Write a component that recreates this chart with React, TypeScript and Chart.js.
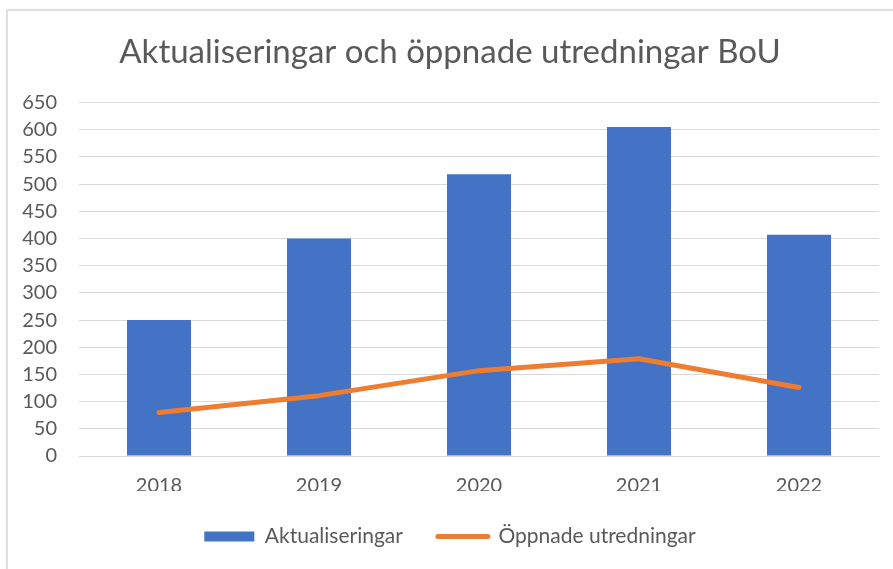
import React, { useEffect, useRef } from "react";
import { Chart, registerables } from "chart.js";

Chart.register(...registerables);

const categories = ["2018", "2019", "2020", "2021", "2022"];
const aktualiseringar = [250, 400, 518, 605, 407];
const oppnadeUtredningar = [80, 111, 157, 179, 126];
const yTicks = [0, 50, 100, 150, 200, 250, 300, 350, 400, 450, 500, 550, 600, 650];
const titleText = "Aktualiseringar och öppnade utredningar BoU";
const seriesNames = ["Aktualiseringar", "Öppnade utredningar"];

const BLUE = "#4472C4";
const ORANGE = "#ED7D31";
const TEXT = "#595959";
const GRID = "#d9d9d9";

export default function App() {
  const ref = useRef<HTMLCanvasElement | null>(null);

  useEffect(() => {
    if (!ref.current) return;
    const chart = new Chart(ref.current, {
      type: "bar",
      data: {
        labels: categories,
        datasets: [
          {
            type: "bar",
            label: seriesNames[0],
            data: aktualiseringar,
            backgroundColor: BLUE,
            borderWidth: 0,
            categoryPercentage: 1,
            barPercentage: 0.4,
            order: 2,
          },
          {
            type: "line",
            label: seriesNames[1],
            data: oppnadeUtredningar,
            borderColor: ORANGE,
            backgroundColor: ORANGE,
            borderWidth: 5,
            borderCapStyle: "round",
            borderJoinStyle: "round",
            pointRadius: 0,
            pointHoverRadius: 0,
            tension: 0,
            fill: false,
            order: 1,
          },
        ],
      },
      options: {
        animation: false,
        responsive: false,
        maintainAspectRatio: false,
        layout: { padding: { left: 21, right: 14, top: 0, bottom: 12 } },
        plugins: {
          title: {
            display: true,
            text: titleText,
            color: TEXT,
            font: { family: "Lato", size: 33, weight: "normal", lineHeight: 1.2 },
            padding: { top: 33, bottom: 30 },
          },
          legend: {
            position: "bottom",
            labels: {
              color: TEXT,
              font: { family: "Lato", size: 21 },
              usePointStyle: true,
              pointStyleWidth: 50,
              boxHeight: 10,
              padding: 35,
              generateLabels: (c: any) =>
                c.data.datasets.map((ds: any, i: number) => ({
                  text: ds.label,
                  fillStyle: i === 0 ? BLUE : ORANGE,
                  strokeStyle: i === 0 ? BLUE : ORANGE,
                  lineWidth: i === 0 ? 0 : 5,
                  lineCap: "round",
                  pointStyle: i === 0 ? "rect" : "line",
                  hidden: false,
                  datasetIndex: i,
                  fontColor: TEXT,
                })),
            },
          },
          tooltip: { enabled: false },
        },
        scales: {
          x: {
            grid: { display: false, drawTicks: false },
            border: { display: true, color: GRID, width: 1 },
            ticks: { color: TEXT, font: { family: "Lato", size: 20 }, padding: 18 },
            afterFit: (s: any) => {
              s.height = 35;
            },
          },
          y: {
            min: 0,
            max: 650,
            grid: { color: GRID, lineWidth: 1, drawTicks: false },
            border: { display: false },
            afterBuildTicks: (s: any) => {
              s.ticks = yTicks.map((v) => ({ value: v }));
            },
            ticks: { color: TEXT, font: { family: "Lato", size: 20 }, padding: 22 },
            afterFit: (s: any) => {
              s.width = 58;
            },
          },
        },
      },
    });
    return () => chart.destroy();
  }, []);

  return (
    <div
      style={{
        position: "fixed",
        left: 0,
        top: 0,
        width: 893,
        height: 569,
        background: "#fff",
        overflow: "hidden",
      }}
    >
      <div
        style={{
          position: "absolute",
          left: 6,
          top: 9,
          width: 1000,
          height: 1000,
          borderLeft: "2px solid #e0e0e0",
          borderTop: "2px solid #e0e0e0",
        }}
      />
      <canvas
        ref={ref}
        width={893}
        height={569}
        style={{ position: "absolute", left: 0, top: 0, width: 893, height: 569 }}
      />
    </div>
  );
}
